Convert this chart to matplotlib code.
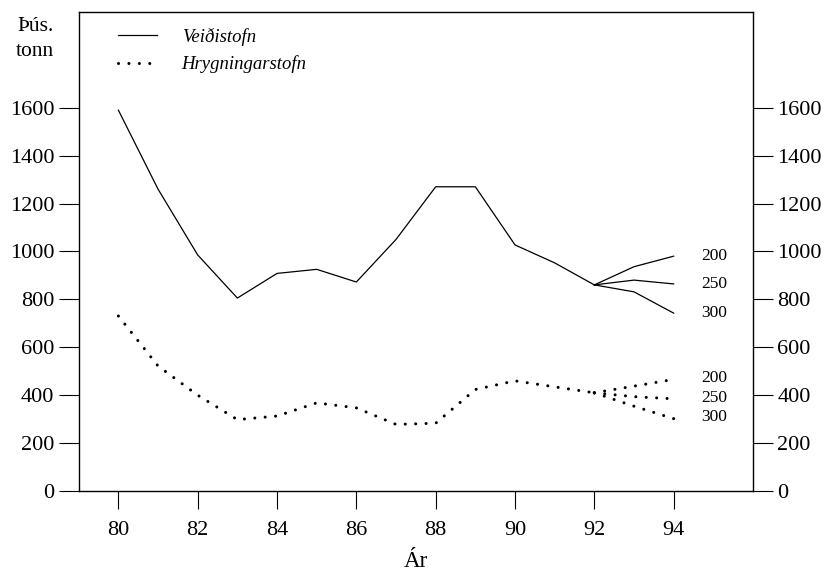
import matplotlib
matplotlib.use('Agg')
import matplotlib.pyplot as plt

plt.rcParams['font.family'] = ['Liberation Serif', 'DejaVu Serif']

# Veiðistofn (solid) and Hrygningarstofn (dotted), þús. tonn
years = [80, 81, 82, 83, 84, 85, 86, 87, 88, 89, 90, 91, 92]
veidistofn = [1590, 1260, 985, 805, 908, 925, 872, 1050, 1270, 1270, 1027, 952, 860]
hrygning = [730, 521, 399, 297, 312, 367, 346, 277, 282, 423, 459, 434, 409]

# projections 92-94 for different catch levels
proj_years = [92, 93, 94]
proj_labels = ['200', '250', '300']
veidi_proj = {'200': [860, 936, 980], '250': [860, 880, 864], '300': [860, 831, 742]}
hryg_proj = {'200': [409, 437, 465], '250': [409, 393, 384], '300': [409, 353, 301]}

dots = (0, (0.01, 3.4))
dot_kw = dict(color='black', lw=2.2, linestyle=dots, dash_capstyle='round')

fig = plt.figure(figsize=(8.27, 5.75), dpi=100)
ax = fig.add_axes([0.0952, 0.1466, 0.8153, 0.8324])

ax.plot(years, veidistofn, color='black', lw=0.9, label='Veiðistofn')
ax.plot(years, hrygning, label='Hrygningarstofn', **dot_kw)

for lab in proj_labels:
    ax.plot(proj_years, veidi_proj[lab], color='black', lw=0.9)
    ax.plot(proj_years, hryg_proj[lab], **dot_kw)
    ax.text(94.7, veidi_proj[lab][-1], lab, fontsize=12.5, va='center', ha='left')
    ax.text(94.7, hryg_proj[lab][-1] + 5, lab, fontsize=12.5, va='center', ha='left')

ax.set_xlim(79, 96)
ax.set_ylim(0, 2000)
ax.set_xticks([80, 82, 84, 86, 88, 90, 92, 94])
ax.set_yticks([0, 200, 400, 600, 800, 1000, 1200, 1400, 1600])

ax.tick_params(axis='y', direction='out', length=14.5, width=0.8,
               labelsize=16, pad=3, left=True, right=True, labelright=True)
ax.tick_params(axis='x', direction='out', length=13, width=0.8, labelsize=16, pad=9)

for s in ax.spines.values():
    s.set_linewidth(1.0)
    s.set_color('black')

ax.set_xlabel('Ár', fontsize=16.5, labelpad=8)

fig.text(35 / 827, 1 - 17 / 575, 'Þús.\ntonn', fontsize=15.5, ha='center', va='top',
         linespacing=1.45)

ax.legend(loc='upper left', bbox_to_anchor=(0.058, 0.967), frameon=False,
          borderaxespad=0, borderpad=0, handlelength=2.1, handletextpad=1.3,
          labelspacing=0.5, prop={'size': 13.5, 'style': 'italic'})

fig.savefig('out.png', dpi=100)
